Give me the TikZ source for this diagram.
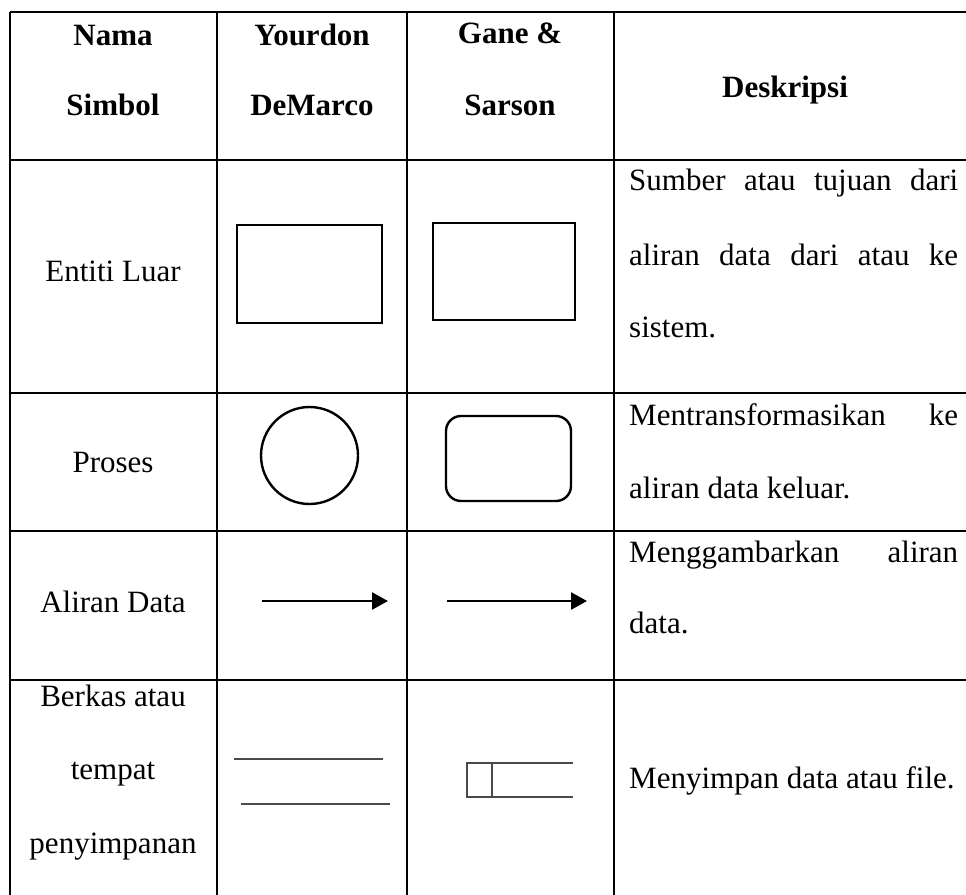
\documentclass[tikz,border=0pt]{standalone}
\usepackage{fontspec}
\setmainfont{Liberation Serif}
\usepackage{tikz}
\usetikzlibrary{arrows.meta}
\definecolor{ink}{HTML}{000000}
\definecolor{thin}{HTML}{4A4A4A}
\tikzset{
  rule/.style={draw=ink, line width=2.6pt},
  symline/.style={draw=ink, line width=2.4pt},
  storeline/.style={draw=thin, line width=1.5pt},
  flow/.style={draw=ink, line width=2.6pt, -{Triangle[length=16pt,width=17pt]}},
  txt/.style={anchor=base, inner sep=0pt, font=\fontsize{31}{37}\selectfont},
  head/.style={txt, font=\fontsize{31}{37}\selectfont\bfseries},
  desc/.style={txt, anchor=base west},
}

\begin{document}
\begin{tikzpicture}[x=1pt, y=-1pt]
\useasboundingbox (0,0) rectangle (966,894);
\clip (0,0) rectangle (966,894);

% Table rules
\foreach \ry in {12,160,393,531,680}
  \draw[rule] (10,\ry) -- (980,\ry);
\foreach \cx in {10,217,407,614}
  \draw[rule] (\cx,12) -- (\cx,910);

% Header
\node[head] (hnama) at (113,45) {Nama};
\node[head] (hsimbol) at (113,115) {Simbol};
\node[head] (hyour) at (312,45) {Yourdon};
\node[head] (hdemarco) at (312,115) {DeMarco};
\node[head] (hgane) at (510,43) {Gane \&};
\node[head] (hsarson) at (510,115) {Sarson};
\node[head] (hdesk) at (785,97) {Deskripsi};

% Entiti Luar
\node[txt] (entiti) at (113,281) {Entiti Luar};
\draw[symline] (237,225) rectangle (382,323);
\draw[symline] (433,223) rectangle (575,320);
\node[desc] (d1a) at (629,190) {\makebox[329pt][s]{Sumber atau tujuan dari}};
\node[desc] (d1b) at (629,265) {\makebox[329pt][s]{aliran data dari atau ke}};
\node[desc] (d1c) at (629,337) {sistem.};

% Proses
\node[txt] (proses) at (113,472) {Proses};
\draw[symline] (309.5,455.5) circle (48.5);
\draw[symline, rounded corners=15pt] (446,416) rectangle (571,501);
\node[desc] (d2a) at (629,425) {\makebox[329pt][s]{Mentransformasikan ke}};
\node[desc] (d2b) at (629,498) {aliran data keluar.};

% Aliran Data
\node[txt] (aliran) at (113,612) {Aliran Data};
\coordinate (ya) at (262,601);
\coordinate (yb) at (388,601);
\coordinate (ga) at (447,601);
\coordinate (gb) at (587,601);
\draw[flow] (ya) -- (yb);
\draw[flow] (ga) -- (gb);
\node[desc] (d3a) at (629,562) {\makebox[329pt][s]{Menggambarkan aliran}};
\node[desc] (d3b) at (629,633) {data.};

% Berkas
\node[txt] (berkas) at (113,706) {Berkas atau};
\node[txt] (tempat) at (113,779) {tempat};
\node[txt] (simpan) at (113,853) {penyimpanan};
\draw[storeline] (234,759) -- (383,759);
\draw[storeline] (241,804) -- (390,804);
\draw[storeline] (573,763) -- (467,763) -- (467,797) -- (573,797);
\draw[storeline] (492,763) -- (492,797);
\node[desc] (d4a) at (629,788) {Menyimpan data atau file.};
\end{tikzpicture}
\end{document}
